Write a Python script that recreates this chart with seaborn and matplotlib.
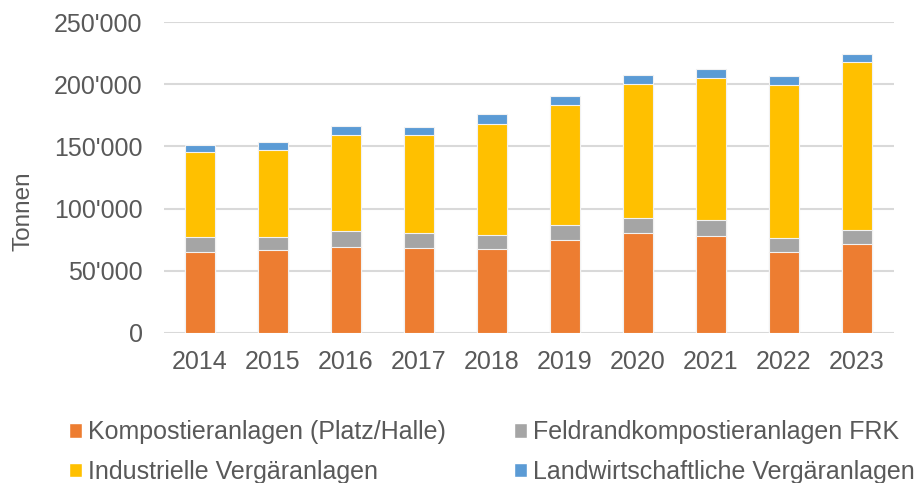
import pandas as pd
import numpy as np
import seaborn as sns
import matplotlib.pyplot as plt
from matplotlib.patches import Patch
from matplotlib.ticker import FuncFormatter

# data (tonnes per year)
years = ["2014", "2015", "2016", "2017", "2018", "2019", "2020", "2021", "2022", "2023"]
kompost = [65000, 66500, 68900, 68400, 67300, 75100, 80200, 77800, 65200, 71600]
feldrand = [12000, 10500, 13200, 11800, 11600, 11500, 12100, 13200, 11000, 11000]
industrie = [68400, 69800, 77000, 78600, 89000, 96400, 107800, 113700, 122900, 135000]
landwirt = [6000, 6700, 6900, 6500, 8400, 7500, 7000, 7500, 7800, 7000]

names = ["Kompostieranlagen (Platz/Halle)", "Feldrandkompostieranlagen FRK",
         "Industrielle Vergäranlagen", "Landwirtschaftliche Vergäranlagen"]
colors = ["#ED7D31", "#A5A5A5", "#FFC000", "#5B9BD5"]

# stacked bars: draw cumulative totals, biggest first
stack = np.cumsum(np.array([kompost, feldrand, industrie, landwirt]), axis=0)
rows = []
for i, name in enumerate(names):
    for j, yr in enumerate(years):
        rows.append({"Jahr": yr, "Kategorie": name, "Wert": stack[i, j]})
df = pd.DataFrame(rows)

sns.set_style("white")
plt.rcParams["font.family"] = ["Liberation Sans", "DejaVu Sans"]
txt = "#595959"

fig = plt.figure(figsize=(9.14, 4.83), dpi=100)
ax = fig.add_axes([163.5 / 914, 1 - 333 / 483, 730 / 914, 311 / 483])

sns.barplot(data=df, x="Jahr", y="Wert", hue="Kategorie",
            hue_order=names[::-1], palette=dict(zip(names, colors)),
            saturation=1, dodge=False, width=0.4, linewidth=0.8,
            edgecolor="#F2F2F2", ax=ax, legend=False)

ax.set_ylim(0, 250000)
ax.set_yticks(range(0, 250001, 50000))
ax.yaxis.set_major_formatter(FuncFormatter(lambda v, p: f"{int(v):,}".replace(",", "'")))
ax.yaxis.grid(True, color="#D9D9D9", linewidth=1.5)
ax.set_axisbelow(True)
for s in ax.spines.values():
    s.set_visible(False)
ax.tick_params(axis="y", length=0, pad=15, labelsize=18, labelcolor=txt)
ax.tick_params(axis="x", length=0, pad=12, labelsize=18, labelcolor=txt)
ax.set_xlabel("")
ax.set_ylabel("")
fig.text(23 / 914, 1 - 211 / 483, "Tonnen", rotation=90, ha="center", va="center",
         fontsize=17.5, color=txt)

handles = [Patch(facecolor=c) for c in colors]
order = [0, 2, 1, 3]
fig.legend([handles[i] for i in order], [names[i] for i in order], ncol=2,
           loc="center left", bbox_to_anchor=(69 / 914, 1 - 452 / 483),
           frameon=False, fontsize=18, labelcolor=txt, borderpad=0,
           borderaxespad=0, handlelength=0.5, handleheight=0.5,
           handletextpad=0.25, columnspacing=2.75, labelspacing=0.62)

fig.savefig("out.png", dpi=100)
